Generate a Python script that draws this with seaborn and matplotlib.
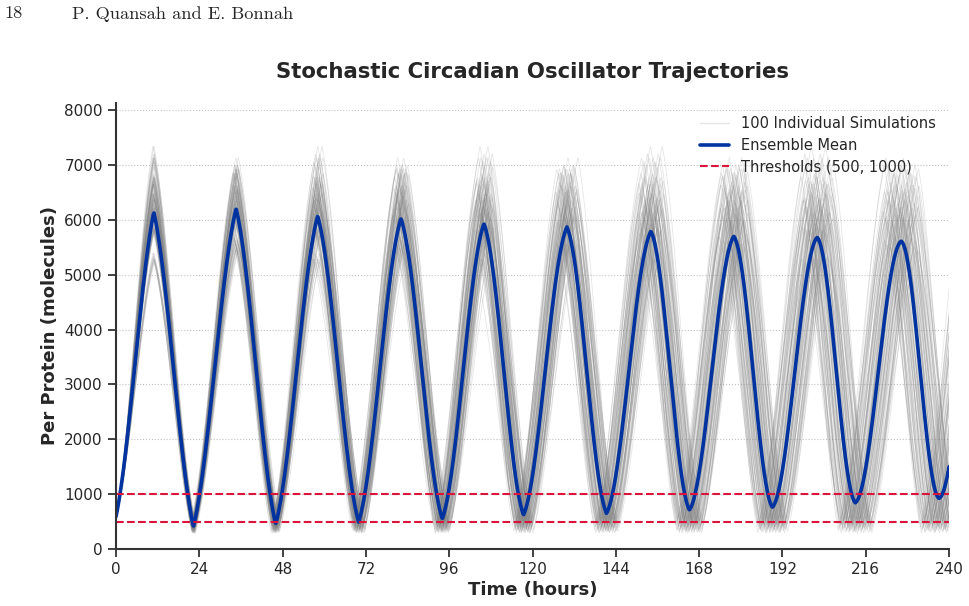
import numpy as np
import pandas as pd
import matplotlib
matplotlib.use('Agg')
import matplotlib.pyplot as plt
from matplotlib.lines import Line2D
import seaborn as sns

# %%
# ensemble mean (extrema of each cycle)
start_value = 590
peak_times = [10.9, 34.6, 58.1, 82.1, 106.0, 129.9, 154.1, 178.0, 202.0, 226.2, 250.1]
peak_values = [6140, 6205, 6070, 6025, 5930, 5870, 5790, 5700, 5680, 5610, 5600]
trough_times = [22.3, 46.0, 69.9, 94.0, 117.4, 141.3, 165.2, 189.1, 213.0, 237.1]
trough_values = [406, 455, 492, 550, 620, 650, 710, 760, 843, 923]
thresholds = [500, 1000]

# spread of the 100 individual runs (estimated from the grey bundle)
sim_rates = [0.980, 0.985, 0.990, 0.994, 0.998, 1.002, 1.006, 1.010, 1.015, 1.020]
sim_peaks = [5400, 5750, 5950, 6100, 6250, 6350, 6500, 6650, 6800, 7000]
sim_troughs = [290, 320, 345, 370, 395, 420, 445, 470, 500, 540]
cycle_jitter = [1.00, 1.03, 0.98, 1.02, 0.99, 1.02, 0.97, 1.01, 0.98, 1.05]
time_jitter = [0.0, 0.5, -0.4, 0.3, -0.6, 0.2, -0.2, 0.6, -0.3, 0.4]

n_sims = 100
t_max = 240


def build_knots(scale, peaks, troughs, shifts=None):
    if shifts is None:
        shifts = [0.0] * (2 * len(peak_times))
    kt, kv = [0.0], [start_value]
    for k in range(len(peak_times)):
        kt.append(peak_times[k] * scale + shifts[2 * k] * min(k, 3) / 3)
        kv.append(peaks[k])
        if k < len(trough_times):
            kt.append(trough_times[k] * scale + shifts[2 * k + 1] * min(k + 1, 3) / 3)
            kv.append(troughs[k])
    return np.array(kt), np.array(kv, dtype=float)


def smooth_through(t, kt, kv, sharp):
    # blend of straight and half-cosine segments between consecutive extrema
    idx = np.clip(np.searchsorted(kt, t, side='right') - 1, 0, len(kt) - 2)
    s = (t - kt[idx]) / (kt[idx + 1] - kt[idx])
    w = np.asarray(sharp)[idx] if np.ndim(sharp) else sharp
    g = w * s + (1 - w) * (1 - np.cos(np.pi * s)) / 2
    return kv[idx] + (kv[idx + 1] - kv[idx]) * g


time = np.linspace(0, t_max, 1601)

# %%
rows = []
for i in range(n_sims):
    a, b = i // 10, i % 10
    pk = [sim_peaks[(b + 3 * k + 7 * a) % 10] * cycle_jitter[(a + 2 * k + b) % 10]
          for k in range(len(peak_times))]
    tr = [sim_troughs[(a + 3 * b + k) % 10] for k in range(len(trough_times))]
    sh = [time_jitter[(j + 3 * a + 7 * b) % 10] for j in range(2 * len(peak_times))]
    kt, kv = build_knots(sim_rates[a], pk, tr, sh)
    rows.append(pd.DataFrame({'time': time,
                              'protein': smooth_through(time, kt, kv, 0.55),
                              'sim': i}))
sims = pd.concat(rows, ignore_index=True)

kt, kv = build_knots(1.0, peak_values, trough_values)
# mean gets rounder as the runs drift out of phase
mean_sharp = np.linspace(0.6, 0.05, len(kt) - 1)
mean_df = pd.DataFrame({'time': time, 'protein': smooth_through(time, kt, kv, mean_sharp)})

# %%
sns.set_theme(style='ticks')
plt.rcParams['font.family'] = ['DejaVu Sans']

fig = plt.figure(figsize=(9.7, 6.06), dpi=100)
ax = fig.add_axes([0.1196, 0.0941, 0.8588, 0.736])

sns.lineplot(data=sims, x='time', y='protein', units='sim', estimator=None,
             color='gray', alpha=0.2, lw=0.6, ax=ax)
sns.lineplot(data=mean_df, x='time', y='protein', color='#0033a0', lw=2.6, ax=ax)
for th in thresholds:
    ax.axhline(th, color='#dc143c', ls='--', lw=1.5)

ax.set_xlim(0, t_max)
ax.set_ylim(0, 8130)
ax.set_xticks(range(0, 241, 24))
ax.set_yticks(range(0, 8001, 1000))
ax.yaxis.grid(True, ls=':', color='#c4c4c4', lw=0.8)
ax.tick_params(labelsize=11, length=6, width=1.3, color='#333333')
for sp in ['left', 'bottom']:
    ax.spines[sp].set_linewidth(1.5)
    ax.spines[sp].set_color('#333333')
sns.despine(ax=ax)

ax.set_xlabel('Time (hours)', fontsize=13, fontweight='bold', labelpad=3)
ax.set_ylabel('Per Protein (molecules)', fontsize=13, fontweight='bold')
ax.set_title('Stochastic Circadian Oscillator Trajectories', fontsize=15.3,
             fontweight='bold', pad=18)

handles = [Line2D([], [], color='gray', alpha=0.2, lw=1),
           Line2D([], [], color='#0033a0', lw=2.6),
           Line2D([], [], color='#dc143c', ls='--', lw=1.5)]
labels = ['100 Individual Simulations', 'Ensemble Mean', 'Thresholds (500, 1000)']
ax.legend(handles, labels, loc='upper right', frameon=False, fontsize=10.5,
          bbox_to_anchor=(1.0, 1.0), labelspacing=0.45)

fig.text(0.005, 0.99, '18', family='cmr10', fontsize=13.2, va='top')
fig.text(0.074, 0.99, 'P. Quansah and E. Bonnah', family='cmr10', fontsize=13.2, va='top')

fig.savefig('out.png', dpi=100)
